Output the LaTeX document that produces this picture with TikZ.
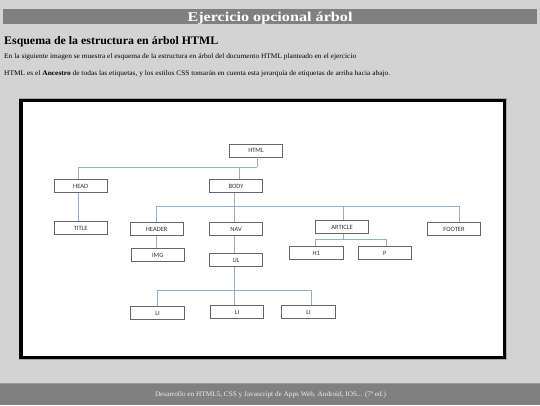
\documentclass[tikz,border=0pt]{standalone}
\usepackage{fontspec}
\setmainfont{Liberation Serif}
\newfontfamily\nodefont{Carlito}
\usepackage{graphicx}
\definecolor{bg}{HTML}{D3D3D3}
\definecolor{bar}{HTML}{808080}
\definecolor{conn}{RGB}{150,175,200}
\definecolor{boxline}{HTML}{666666}
\definecolor{foot}{HTML}{EEEEEE}
\begin{document}
\begin{tikzpicture}[x=1pt,y=-1pt,
  tag/.style={draw=boxline,line width=0.9pt,fill=white,minimum width=53.5pt,minimum height=13pt,inner sep=0pt,font=\nodefont\fontsize{6.5}{6.5}\selectfont,text=black!80},
  link/.style={draw=conn,line width=0.9pt},
  txt/.style={inner sep=0pt,anchor=base west}]
\useasboundingbox (0,0) rectangle (540,405);
\fill[bg] (0,0) rectangle (540,405);
% header bar
\fill[bar] (3,9) rectangle (537,24.3);
\node[inner sep=0pt,anchor=base,text=white] (ttl) at (270,21)
  {\resizebox{165pt}{\height}{\fontsize{13.5}{14}\selectfont\bfseries Ejercicio opcional árbol}};
\node[txt] (hdg) at (4,44.3)
  {\resizebox{214pt}{\height}{\fontsize{11.5}{12}\selectfont\bfseries Esquema de la estructura en árbol HTML}};
\node[txt] (par1) at (4,58.8)
  {\resizebox{352pt}{\height}{\fontsize{7}{8}\selectfont En la siguiente imagen se muestra el esquema de la estructura en árbol del documento HTML planteado en el ejercicio}};
\node[txt] (par2) at (4,75.4)
  {\resizebox{386pt}{\height}{\fontsize{7}{8}\selectfont HTML es el \textbf{Ancestro} de todas las etiquetas, y los estilos CSS tomarán en cuenta esta jerarquía de etiquetas de arriba hacia abajo.}};
% frame
\draw[line width=0.7pt,black!35] (18.9,98.6) rectangle (506.4,359.7);
\fill[white] (21,100.7) rectangle (504.3,357.6);
\draw[line width=3.3pt,black] (21,100.7) rectangle (504.3,357.6);
% footer
\fill[bar] (0,383) rectangle (540,405);
\draw[line width=0.6pt,black!40] (0,383.2) -- (540,383.2);
\node[inner sep=0pt,anchor=base,text=foot] (foottxt) at (270.5,396.5)
  {\resizebox{231pt}{\height}{\fontsize{7}{8}\selectfont Desarrollo en HTML5, CSS y Javascript de Apps Web, Android, IOS... (7ª ed.)}};
% tree nodes
\node[tag] (nhtml) at (256,150.5) {HTML};
\node[tag] (nhead) at (80.7,186) {HEAD};
\node[tag] (nbody) at (236,186) {BODY};
\node[tag] (ntitle) at (80.7,228) {TITLE};
\node[tag] (nheader) at (156.7,229) {HEADER};
\node[tag] (nnav) at (236,229) {NAV};
\node[tag] (nimg) at (157.7,255) {IMG};
\node[tag] (nul) at (236,260.3) {UL};
\node[tag] (narticle) at (342,227) {ARTICLE};
\node[tag] (nfooter) at (454,229) {FOOTER};
\node[tag] (nh1) at (316.3,253.3) {H1};
\node[tag] (np) at (384.7,253) {P};
\node[tag] (nli1) at (157.5,313) {LI};
\node[tag] (nli2) at (237,312) {LI};
\node[tag] (nli3) at (308.5,312) {LI};
% stems and junctions
\coordinate (j1) at (257.3,167.3);
\coordinate (sHead) at (78.3,0);
\coordinate (sBody) at (239,0);
\coordinate (j2) at (234.3,206.3);
\coordinate (sHeader) at (156.7,0);
\coordinate (sArt) at (343.3,0);
\coordinate (sFoot) at (459.3,0);
\coordinate (j3) at (343.3,239);
\coordinate (sH1) at (315,0);
\coordinate (sP) at (386,0);
\coordinate (j4) at (234.3,290.7);
\coordinate (sLi1) at (157.3,0);
\coordinate (sLi3) at (311.3,0);
% connectors
\draw[link] (nhtml.south -| j1) -- (j1);
\draw[link] (j1) -| (nhead.north -| sHead);
\draw[link] (j1) -| (nbody.north -| sBody);
\draw[link] (nhead.south -| sHead) -- (ntitle.north -| sHead);
\draw[link] (nbody.south -| j2) -- (nnav.north -| j2);
\draw[link] (j2) -| (nheader.north -| sHeader);
\draw[link] (j2) -| (narticle.north -| sArt);
\draw[link] (j2) -| (nfooter.north -| sFoot);
\draw[link] (nheader.south -| sHeader) -- (nimg.north -| sHeader);
\draw[link] (nnav.south -| j2) -- (nul.north -| j2);
\draw[link] (narticle.south -| j3) -- (j3);
\draw[link] (j3) -| (nh1.north -| sH1);
\draw[link] (j3) -| (np.north -| sP);
\draw[link] (nul.south -| j4) -- (nli2.north -| j4);
\draw[link] (j4) -| (nli1.north -| sLi1);
\draw[link] (j4) -| (nli3.north -| sLi3);
\end{tikzpicture}
\end{document}
